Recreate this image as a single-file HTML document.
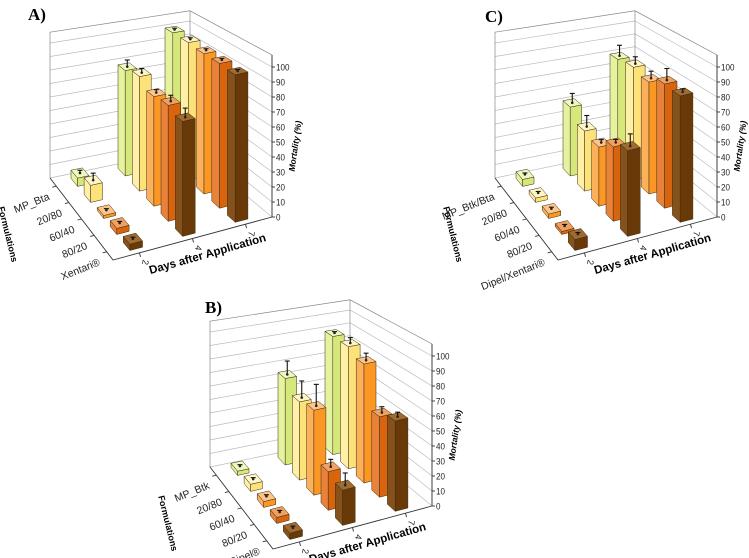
<!DOCTYPE html>
<html><head><meta charset="utf-8"><style>
html,body{margin:0;padding:0;background:#fff;}
svg{display:block;font-family:"Liberation Sans",sans-serif;}
</style></head><body>
<svg id="fig" width="749" height="558" viewBox="0 0 749 558"></svg>
<script>
const days = ["2","4","7"];
const formsA = ["MP_Bta","20/80","60/40","80/20","Xentari®"];
const formsB = ["MP_Btk","20/80","60/40","80/20","Dipel®"];
const formsC = ["MP_Btk/Bta","20/80","60/40","80/20","Dipel/Xentari®"];
const yTicks = [0,10,20,30,40,50,60,70,80,90,100];
// values: [day][formulation]
const valA = [[6,12,2,4,4],[78,82,76,78,75],[100,100,99,99,98]];
const errA = [[2,5,1,1,1],[5,3,2,4,6],[1,1,1,1,1]];
const valB = [[3,5,4,4,4],[64,56,59,26,23],[89,89,84,55,60]];
const errB = [[1,1,1,1,1],[10,12,15,5,8],[1,4,5,4,3]];
const valC = [[5,3,3,2,7],[51,43,41,50,56],[80,82,79,85,84]];
const errC = [[1,1,1,1,1],[7,8,2,2,8],[8,5,5,8,2]];
const colors = [
 {f:"#d6e77c",s:"#e6f2a0",t:"#eef7bf"},
 {f:"#fde27a",s:"#fff0a8",t:"#fff6c8"},
 {f:"#fb9724",s:"#fdb05a",t:"#fec58a"},
 {f:"#d8640e",s:"#e8823a",t:"#f0a060"},
 {f:"#6a3908",s:"#86521c",t:"#a06a30"}
];
const NS="http://www.w3.org/2000/svg";
const svg=document.getElementById('fig');
function mk(tag,attrs,parent){const e=document.createElementNS(NS,tag);for(const k in attrs)e.setAttribute(k,attrs[k]);(parent||svg).appendChild(e);return e;}
const L=[50,178],F=[113,260],B=[190,149],R=[272,217];
const SL=135,SF=158,SB=128,SR=150,WALL=108;
function P(u,v){return [(1-u)*(1-v)*L[0]+(1-u)*v*F[0]+u*(1-v)*B[0]+u*v*R[0],(1-u)*(1-v)*L[1]+(1-u)*v*F[1]+u*(1-v)*B[1]+u*v*R[1]];}
function S(u,v){return (1-u)*(1-v)*SL+(1-u)*v*SF+u*(1-v)*SB+u*v*SR;}
function pt(u,v,h){const p=P(u,v);return [p[0],p[1]-S(u,v)*h/100];}
function poly(pts){return pts.map(p=>p[0].toFixed(1)+","+p[1].toFixed(1)).join(" ");}
function uPos(i){return (2*i+1)/6;}
function vPos(j){return (2*j+1)/10;}

function panel(ox,oy,label,lx,ly,forms,vals,errs,name){
 const g=mk('g',{transform:`translate(${ox},${oy})`});
 
 
 const t=mk('text',{x:lx,y:ly,'font-family':'Liberation Serif,serif','font-weight':'bold','font-size':17},g);
 t.textContent=label;
 
 
 const walls=mk('g',{stroke:'#bbb','stroke-width':0.7,fill:'none'},g);
 
 
 for(let k=0;k<=10;k++){const h=k*10;
  mk('line',{x1:pt(0,0,h)[0],y1:pt(0,0,h)[1],x2:pt(1,0,h)[0],y2:pt(1,0,h)[1]},walls);
  mk('line',{x1:pt(1,0,h)[0],y1:pt(1,0,h)[1],x2:pt(1,1,h)[0],y2:pt(1,1,h)[1]},walls);}
 mk('polyline',{points:poly([pt(0,0,0),pt(0,0,WALL),pt(1,0,WALL),pt(1,1,WALL),pt(1,1,0)]),stroke:'#888'},walls);
 mk('line',{x1:pt(1,0,0)[0],y1:pt(1,0,0)[1],x2:pt(1,0,WALL)[0],y2:pt(1,0,WALL)[1],stroke:'#888'},walls);
 const ax=mk('g',{stroke:'#333','stroke-width':0.9,fill:'none'},g);
 
 
 mk('polyline',{points:poly([pt(0,0,0),pt(0,1,0),pt(1,1,0)])},ax);
 mk('line',{x1:pt(1,1,0)[0],y1:pt(1,1,0)[1],x2:pt(1,1,WALL)[0],y2:pt(1,1,WALL)[1]},ax);
 yTicks.forEach(v=>{const p=pt(1,1,v);
  mk('line',{x1:p[0],y1:p[1],x2:p[0]+3,y2:p[1]},ax);
  const tx=mk('text',{x:p[0]+4,y:p[1]+3.5,'font-size':9.5,fill:'#222',transform:`translate(${p[0]+4},0) scale(0.85,1) translate(${-(p[0]+4)},0)`},g);
  tx.textContent=v;
  
  });
 const yt=mk('text',{x:0,y:0,'font-size':8.5,'font-weight':'bold','font-style':'italic','text-anchor':'middle',transform:`translate(${pt(1,1,0)[0]+26},${pt(1,1,47)[1]}) rotate(-82)`},g);
 yt.textContent='Mortality (%)';
 
 
 forms.forEach((f,j)=>{const p=pt(0,vPos(j),0);
  mk('line',{x1:p[0],y1:p[1],x2:p[0]-4,y2:p[1]+1},ax);
  const tx=mk('text',{x:0,y:0,'font-size':10.5,'text-anchor':'end',fill:'#222',transform:`translate(${p[0]-6},${p[1]+13}) rotate(-22)`},g);
  tx.textContent=f;
  
  });
 const ft=mk('text',{x:0,y:0,'font-size':9,'font-weight':'bold','text-anchor':'middle',transform:`translate(${L[0]-45},${(L[1]+F[1])/2+16}) rotate(76)`},g);
 ft.textContent='Formulations';
 
 
 days.forEach((d,i)=>{const p=pt(uPos(i),1,0);
  mk('line',{x1:p[0],y1:p[1],x2:p[0]+1,y2:p[1]+4},ax);
  const tx=mk('text',{x:0,y:0,'font-size':9,'text-anchor':'middle',fill:'#222',transform:`translate(${p[0]+3},${p[1]+9}) rotate(100)`},g);
  tx.textContent=d;
  
  });
 const dt=mk('text',{x:0,y:0,'font-size':11.5,'font-weight':'bold','text-anchor':'middle',transform:`translate(${(F[0]+R[0])/2+16},${(F[1]+R[1])/2+19}) rotate(-16)`},g);
 dt.textContent='Days after Application';
 
 
 const items=[];
 days.forEach((d,i)=>forms.forEach((f,j)=>items.push({i,j,n:vPos(j)-uPos(i)})));
 items.sort((a,b)=>a.n-b.n);
 const du=0.04,dv=0.05;
 items.forEach(it=>{
  const u=uPos(it.i),v=vPos(it.j),h=vals[it.i][it.j],e=errs[it.i][it.j],c=colors[it.j];
  const bg=mk('g',{stroke:'#3a2a10','stroke-width':0.5,'stroke-linejoin':'round'},g);
  
  
  const u0=u-du,u1=u+du,v0=v-dv,v1=v+dv;
  mk('polygon',{points:poly([pt(u0,v0,0),pt(u0,v1,0),pt(u0,v1,h),pt(u0,v0,h)]),fill:c.s},bg);
  mk('polygon',{points:poly([pt(u0,v1,0),pt(u1,v1,0),pt(u1,v1,h),pt(u0,v1,h)]),fill:c.f},bg);
  mk('polygon',{points:poly([pt(u0,v0,h),pt(u0,v1,h),pt(u1,v1,h),pt(u1,v0,h)]),fill:c.t},bg);
  const top=pt(u,v,h),et=pt(u,v,h+e);
  mk('line',{x1:top[0],y1:top[1],x2:et[0],y2:et[1],stroke:'#111','stroke-width':1.1},bg);
  mk('line',{x1:et[0]-2.5,y1:et[1],x2:et[0]+2.5,y2:et[1],stroke:'#111','stroke-width':1.1},bg);
  mk('circle',{cx:top[0],cy:top[1],r:1.3,fill:'#222',stroke:'none'},bg);
 });
}
panel(0,0,'A)',28,20,formsA,valA,errA,'panel-a');
panel(160,289,'B)',45,24,formsB,valB,errB,'panel-b');
panel(445,0,'C)',40,22,formsC,valC,errC,'panel-c');
</script>
</body></html>
